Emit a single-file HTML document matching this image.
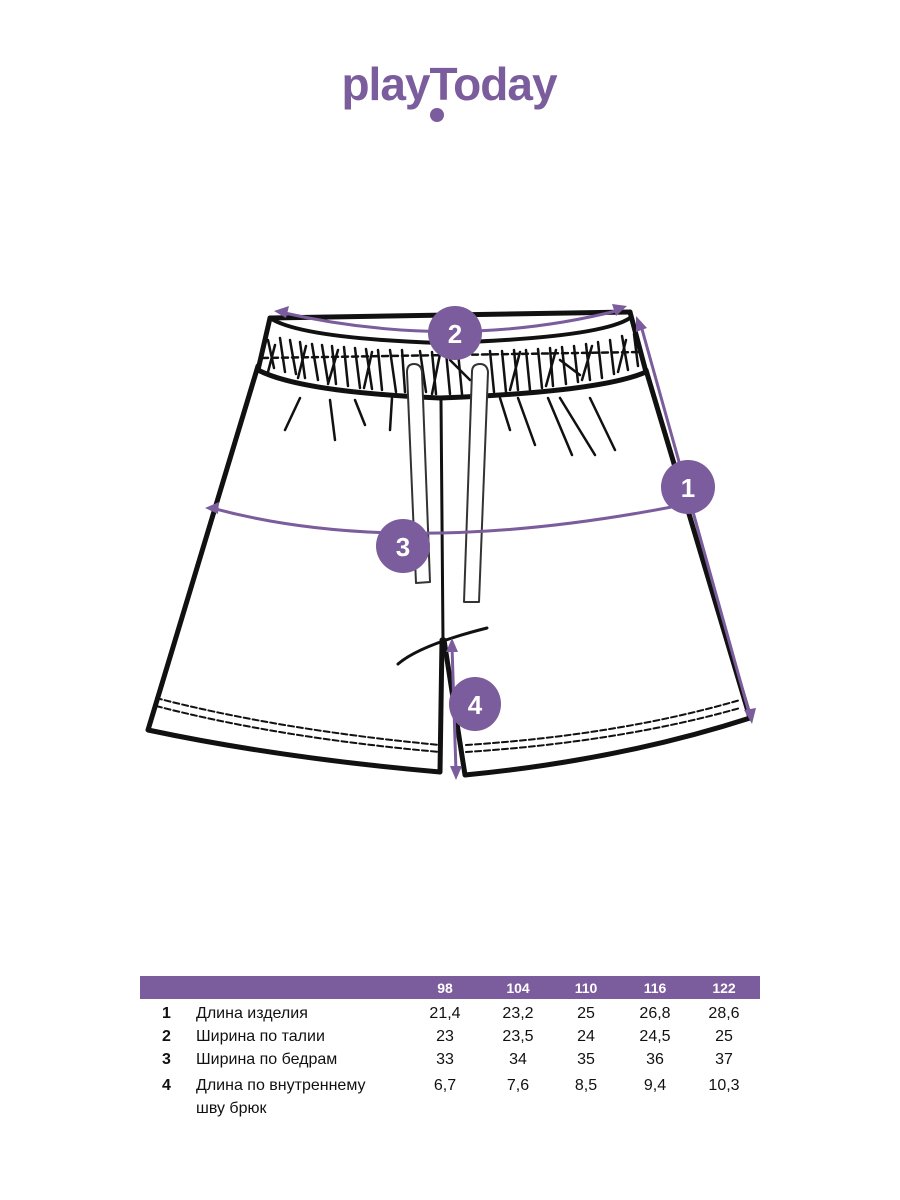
<!DOCTYPE html>
<html><head><meta charset="utf-8"><style>
body{margin:0;background:#fff;}
svg{display:block}
</style></head><body>
<svg width="900" height="1200" viewBox="0 0 900 1200" xmlns="http://www.w3.org/2000/svg" font-family="'Liberation Sans', sans-serif">
<rect width="900" height="1200" fill="#fff"/>
<!-- logo -->
<text x="449" y="100" text-anchor="middle" font-size="46" font-weight="bold" fill="#7b5c9c" letter-spacing="-1">playToday</text>
<circle cx="437" cy="115" r="7" fill="#7b5c9c"/>

<g stroke="#111" fill="none" stroke-linecap="round" stroke-linejoin="round">
<!-- waistband -->
<path d="M270 318 L630 312" stroke-width="5"/>
<path d="M270 318 Q300 338 440 343 Q600 338 630 318" stroke-width="4"/>
<path d="M270 318 L258 370 Q300 392 440 398 Q600 392 646 372 L630 312" stroke-width="5"/>
<!-- gather marks -->
<g stroke-width="2.5">
<path d="M268 340 L274 368 M280 338 L285 372 M290 340 L296 374 M300 342 L305 378 M312 344 L318 380 M322 345 L328 382 M332 346 L336 384 M344 347 L348 386 M355 348 L360 388 M366 349 L372 389 M378 350 L382 390 M390 350 L396 392 M402 350 L405 392 M420 351 L426 392 M432 352 L436 394 M446 352 L450 394 M458 352 L462 394 M490 351 L494 392 M502 351 L506 392 M514 350 L518 390 M526 350 L530 390 M538 349 L542 388 M550 348 L553 386 M562 347 L566 384 M574 346 L578 382 M586 344 L590 380 M598 342 L602 378 M610 340 L614 374 M622 336 L628 370 M634 334 L638 366"/>
<path d="M275 345 L268 372 M306 346 L298 378 M338 350 L328 384 M372 352 L364 388 M440 354 L432 394 M520 352 L510 390 M556 350 L546 386 M592 346 L582 380 M626 340 L618 372 M450 360 L470 380 M560 360 L580 375"/>
<path d="M262 358 L640 352" stroke-dasharray="6 4"/>
<path d="M300 398 L285 430 M330 400 L335 440 M355 400 L365 425 M392 398 L390 430 M500 398 L510 430 M518 398 L535 445 M548 398 L572 455 M560 398 L595 455 M590 398 L615 450"/>
</g>
<!-- body sides -->
<path d="M258 366 L148 730 Q280 758 440 772 L442 640" stroke-width="5"/>
<path d="M646 370 L750 718 Q620 760 465 775 L444 640" stroke-width="5"/>
<path d="M441 400 L443 640" stroke-width="3"/>
<path d="M398 664 Q420 645 487 628" stroke-width="3"/>
<!-- hem stitches -->
<path d="M156 698 Q280 730 440 745" stroke-width="2" stroke-dasharray="6 3"/>
<path d="M156 706 Q280 738 440 752" stroke-width="2" stroke-dasharray="6 3"/>
<path d="M466 745 Q620 735 740 700" stroke-width="2" stroke-dasharray="6 3"/>
<path d="M466 752 Q620 742 740 708" stroke-width="2" stroke-dasharray="6 3"/>
<!-- drawstrings -->
<path d="M407 372 Q407 364 414 364 Q421 364 422 372 L430 582 L416 583 Z" fill="#fff" stroke="#333" stroke-width="2"/>
<path d="M472 372 Q472 364 480 364 Q487 364 488 372 L479 602 L464 602 Z" fill="#fff" stroke="#333" stroke-width="2"/>
</g>

<!-- measurement arrows -->
<g stroke="#7b5c9c" stroke-width="3" fill="none">
<path d="M280 312 Q455 352 620 310"/>
<path d="M640 322 L750 716"/>
<path d="M212 508 Q403 560 682 505"/>
<path d="M452 646 L456 772"/>
</g>
<g fill="#7b5c9c">
<polygon points="274,311 289,306 286,318"/>
<polygon points="627,306 612,304 616,316"/>
<polygon points="636,316 636,332 647,328"/>
<polygon points="752,724 744,710 756,708"/>
<polygon points="205,508 219,502 218,514"/>
<polygon points="452,638 446,652 458,652"/>
<polygon points="456,780 450,766 462,766"/>
<circle cx="455" cy="333" r="27"/>
<circle cx="688" cy="487" r="27"/>
<circle cx="403" cy="546" r="27"/>
<ellipse cx="475" cy="704" rx="26" ry="27"/>
</g>
<g fill="#fff" font-size="26" font-weight="bold" text-anchor="middle">
<text x="455" y="343">2</text>
<text x="688" y="497">1</text>
<text x="403" y="556">3</text>
<text x="475" y="714">4</text>
</g>

<!-- table -->
<rect x="140" y="976" width="620" height="23" fill="#7b5c9c"/>
<g fill="#fff" font-size="14" font-weight="bold" text-anchor="middle">
<text x="445" y="993">98</text><text x="518" y="993">104</text><text x="586" y="993">110</text><text x="655" y="993">116</text><text x="724" y="993">122</text>
</g>
<g fill="#111" font-size="16">
<g font-weight="bold"><text x="162" y="1018">1</text><text x="162" y="1041">2</text><text x="162" y="1064">3</text><text x="162" y="1090">4</text></g>
<text x="196" y="1018">Длина изделия</text>
<text x="196" y="1041">Ширина по талии</text>
<text x="196" y="1064">Ширина по бедрам</text>
<text x="196" y="1090">Длина по внутреннему</text>
<text x="196" y="1113">шву брюк</text>
<g text-anchor="middle">
<text x="445" y="1018">21,4</text><text x="518" y="1018">23,2</text><text x="586" y="1018">25</text><text x="655" y="1018">26,8</text><text x="724" y="1018">28,6</text>
<text x="445" y="1041">23</text><text x="518" y="1041">23,5</text><text x="586" y="1041">24</text><text x="655" y="1041">24,5</text><text x="724" y="1041">25</text>
<text x="445" y="1064">33</text><text x="518" y="1064">34</text><text x="586" y="1064">35</text><text x="655" y="1064">36</text><text x="724" y="1064">37</text>
<text x="445" y="1090">6,7</text><text x="518" y="1090">7,6</text><text x="586" y="1090">8,5</text><text x="655" y="1090">9,4</text><text x="724" y="1090">10,3</text>
</g>
</g>
</svg>
</body></html>
